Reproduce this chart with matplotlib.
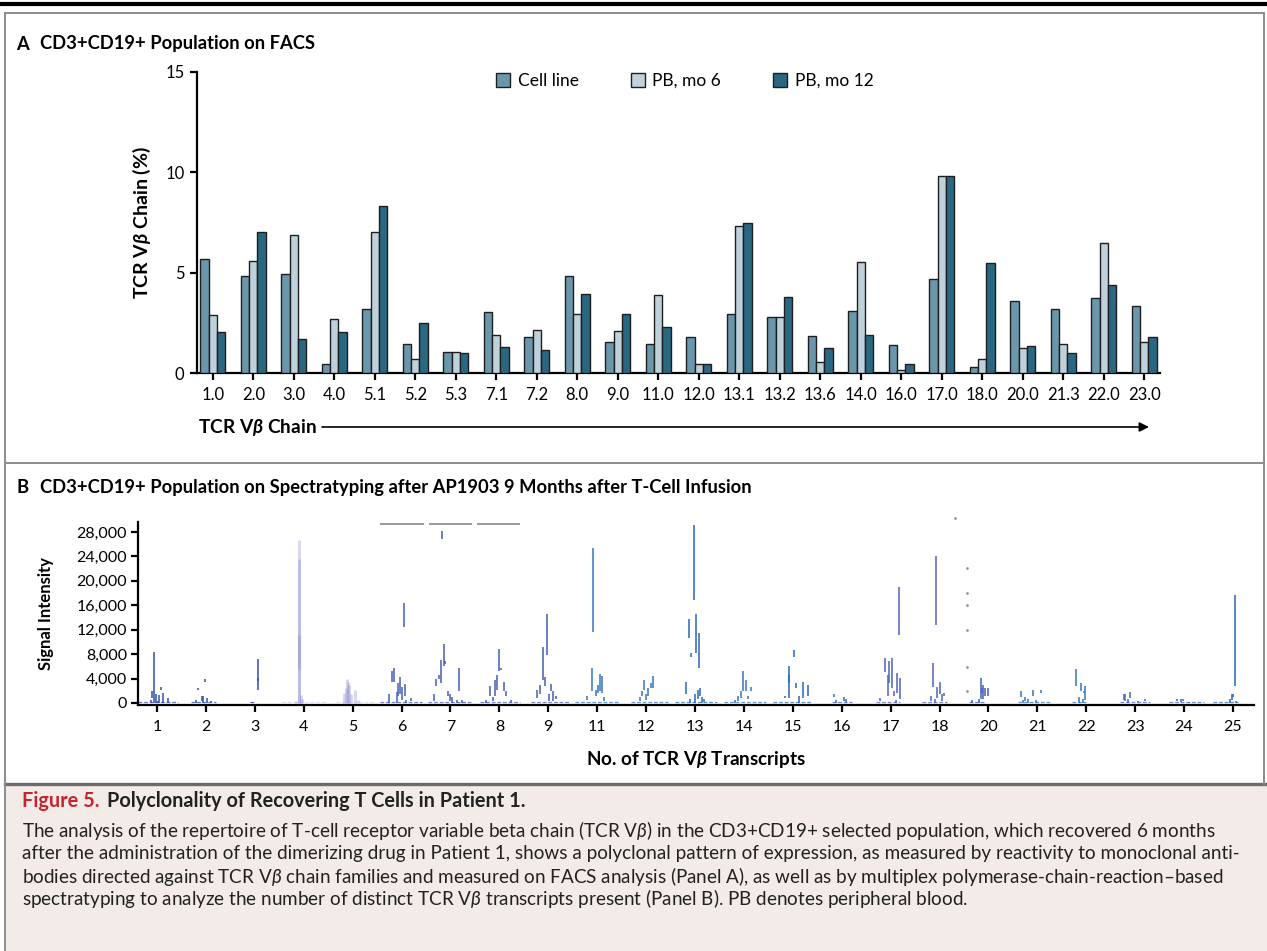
import matplotlib
matplotlib.use("Agg")
import matplotlib.pyplot as plt
from matplotlib.lines import Line2D
from matplotlib.patches import Rectangle
import numpy as np

plt.rcParams['font.family'] = ['Lato', 'DejaVu Sans']
plt.rcParams['mathtext.fontset'] = 'custom'
plt.rcParams['mathtext.it'] = 'Lato:italic'
plt.rcParams['mathtext.rm'] = 'Lato'
plt.rcParams['mathtext.bf'] = 'Lato:bold'
plt.rcParams['mathtext.bfit'] = 'Lato:italic:bold'

# ---- Panel A data: TCR Vbeta chain usage on FACS (%) ----
chains = ['1.0', '2.0', '3.0', '4.0', '5.1', '5.2', '5.3', '7.1', '7.2', '8.0', '9.0', '11.0',
          '12.0', '13.1', '13.2', '13.6', '14.0', '16.0', '17.0', '18.0', '20.0', '21.3', '22.0', '23.0']
cell_line = [5.70, 4.84, 4.94, 0.46, 3.17, 1.43, 1.04, 3.02, 1.81, 4.84, 1.52, 1.46,
             1.81, 2.95, 2.77, 1.86, 3.08, 1.41, 4.69, 0.31, 3.60, 3.18, 3.76, 3.36]
pb_mo6 = [2.87, 5.57, 6.90, 2.67, 7.03, 0.70, 1.04, 1.89, 2.12, 2.95, 2.09, 3.88,
          0.43, 7.31, 2.77, 0.56, 5.55, 0.13, 9.80, 0.68, 1.24, 1.43, 6.50, 1.56]
pb_mo12 = [2.06, 7.03, 1.69, 2.06, 8.34, 2.49, 1.01, 1.28, 1.14, 3.96, 2.92, 2.27,
           0.43, 7.49, 3.80, 1.26, 1.91, 0.43, 9.80, 5.50, 1.33, 1.01, 4.38, 1.81]
series_names = ['Cell line', 'PB, mo 6', 'PB, mo 12']

# ---- Panel B data: spectratype peaks (offset from family tick, low, high) ----
transcripts = ['1', '2', '3', '4', '5', '6', '7', '8', '9', '11', '12', '13',
               '14', '15', '16', '17', '18', '20', '21', '22', '23', '24', '25']
peaks_v1 = [(-0.07, 0, 8300), (-0.095, 800, 1900), (-0.12, 0, 500), (-0.015, 0, 1400), (0.04, 0, 1300),
            (0.09, 2200, 2600), (0.115, 0, 1600), (0.22, 0, 800), (0.02, 0, 400)]
peaks_v2 = [(-0.2, 0, 450), (-0.155, 2150, 2450), (-0.09, 300, 1100), (-0.065, 0, 1100),
            (-0.03, 3500, 3900), (0.03, 0, 800), (0.1, 0, 300)]
peaks_v3 = [(-0.05, 0, 200), (0.055, 2100, 7200), (0.06, 3600, 4100)]
peaks_v4 = [(-0.1, 0, 26700), (-0.105, 0, 23500), (-0.1, 5500, 11200), (-0.06, 0, 1300),
            (-0.03, 0, 600), (-0.15, 0, 300)]
peaks_v5 = [(-0.18, 0, 1600), (-0.14, 0, 2400), (-0.11, 0, 4000), (-0.09, 0, 3400), (-0.07, 0, 3000),
            (-0.03, 0, 1400), (0.05, 0, 2200), (0.1, 0, 500)]
peaks_v6 = [(-0.25, 0, 1400), (-0.205, 3500, 5200), (-0.15, 3500, 5700), (-0.1, 0, 1800),
            (-0.07, 1100, 3300), (-0.03, 1400, 4200), (0.01, 500, 2600), (0.04, 12400, 16400),
            (0.065, 1100, 3100), (0.2, 250, 800), (0.1, 0, 500)]
peaks_v7 = [(-0.33, 300, 1500), (-0.29, 2700, 4000), (-0.24, 4000, 4650), (-0.19, 3300, 7000),
            (-0.165, 26900, 28100), (-0.13, 6000, 9700), (-0.11, 6300, 6800), (-0.06, 1100, 1900),
            (0.0, 300, 1500), (0.03, 0, 1000), (0.175, 1900, 5700), (0.14, 0, 500), (0.24, 0, 500)]
peaks_v8 = [(-0.27, 0, 500), (-0.2, 1100, 2700), (-0.14, 300, 900), (-0.1, 1100, 3800),
            (-0.055, 2200, 4500), (-0.015, 5300, 8900), (0.03, 5400, 5700), (0.095, 1900, 3500),
            (0.14, 1100, 1900), (0.24, 0, 500)]
peaks_v9 = [(-0.225, 800, 2200), (-0.17, 1500, 3000), (-0.115, 3700, 9200), (-0.075, 2700, 4300),
            (-0.02, 7900, 14500), (0.02, 300, 1400), (0.06, 1900, 3100), (0.1, 300, 1900), (0.15, 700, 1200)]
peaks_v11 = [(-0.2, 500, 1100), (-0.11, 1900, 5700), (-0.08, 11700, 25400), (-0.02, 1100, 2200),
             (0.02, 1600, 3000), (0.055, 1900, 4800), (0.1, 1600, 4400), (0.14, 300, 900)]
peaks_v12 = [(-0.135, 300, 900), (-0.09, 1100, 1900), (-0.035, 2200, 3800), (0.0, 500, 1400),
             (0.04, 1100, 2400), (0.1, 2500, 3200), (0.15, 2500, 4400)]
peaks_v13 = [(-0.19, 1400, 3400), (-0.11, 0, 700), (-0.13, 10700, 13700), (-0.075, 7600, 8200),
             (-0.025, 16900, 29200), (0.0, 0, 1400), (0.025, 8200, 14500), (0.055, 600, 2100),
             (0.08, 5800, 11500), (0.11, 1100, 2400), (0.15, 0, 900), (0.19, 200, 700)]
peaks_v14 = [(-0.18, 0, 500), (-0.12, 300, 1100), (-0.07, 800, 1900), (-0.02, 1900, 5300),
             (0.035, 1900, 3800), (0.08, 700, 1200), (0.135, 1900, 2600)]
peaks_v15 = [(-0.17, 800, 1200), (-0.085, 800, 6100), (-0.08, 3300, 4500), (0.02, 7500, 8600),
             (0.07, 2500, 3200), (0.12, 0, 1100), (0.21, 800, 3400), (0.3, 1100, 3000)]
peaks_v16 = [(-0.16, 900, 1500), (-0.11, 0, 500), (0.05, 300, 900), (0.08, 0, 600)]
peaks_v17 = [(-0.21, 300, 800), (-0.11, 5100, 7300), (-0.06, 1100, 4600), (-0.03, 3300, 6800),
             (0.02, 2500, 7400), (0.06, 1100, 2000), (0.13, 1600, 4900), (0.175, 11200, 19000),
             (0.2, 600, 4100), (0.1, 0, 500)]
peaks_v18 = [(-0.18, 300, 1200), (-0.13, 2600, 6600), (-0.08, 12700, 24000), (-0.05, 800, 2600),
             (0.0, 1400, 3400), (0.05, 400, 1500), (0.09, 1100, 1600), (-0.1, 0, 600)]
peaks_v20 = [(-0.34, 0, 500), (-0.2, 0, 700), (-0.16, 600, 4100), (-0.14, 1600, 2500),
             (-0.12, 600, 2900), (-0.07, 1100, 2400), (-0.015, 1100, 2400)]
peaks_v21 = [(-0.33, 900, 1900), (-0.3, 0, 500), (-0.26, 300, 900), (-0.2, 0, 600),
             (-0.09, 1100, 2200), (-0.03, 0, 500), (0.07, 1600, 2200)]
peaks_v22 = [(-0.21, 2700, 5600), (-0.15, 0, 900), (-0.11, 1900, 3200), (-0.06, 0, 600),
             (-0.03, 500, 2700), (-0.04, 1600, 2000)]
peaks_v23 = [(-0.23, 500, 1500), (-0.2, 400, 1500), (-0.11, 800, 1800), (-0.14, 0, 600),
             (0.2, 300, 700), (0.05, 0, 300)]
peaks_v24 = [(-0.14, 300, 650), (-0.07, 200, 700), (-0.02, 300, 600), (0.1, 0, 200)]
peaks_v25 = [(-0.03, 500, 1400), (-0.06, 0, 600), (0.0, 1000, 1500), (0.045, 2800, 17600), (0.07, 0, 400)]

# low-level baseline trace around each family (offset start, offset end)
baseline_spans = [(-0.4, 0.42), (-0.3, 0.2), (-0.1, 0.0), (-0.45, 0.45), (-0.35, 0.45), (-0.45, 0.42),
                  (-0.45, 0.42), (-0.4, 0.42), (-0.35, 0.45), (-0.45, 0.45), (-0.3, 0.45), (-0.4, 0.45),
                  (-0.4, 0.45), (-0.4, 0.4), (-0.2, 0.2), (-0.3, 0.2), (-0.35, 0.15), (-0.4, -0.05),
                  (-0.4, 0.25), (-0.3, 0.0), (-0.3, 0.3), (-0.3, 0.4), (-0.4, 0.1)]

# size-marker bars at top of trace and stray dotted trace
marker_bar_x = [(4.56, 5.46), (5.56, 6.44), (6.54, 7.42)]
marker_bar_y = 29300
dot_x = [16.56, 16.56, 16.56, 16.56, 16.56, 16.56, 16.32]
dot_y = [22100, 18000, 16000, 11900, 5840, 1900, 30300]

spectra = [peaks_v1, peaks_v2, peaks_v3, peaks_v4, peaks_v5, peaks_v6, peaks_v7, peaks_v8, peaks_v9,
           peaks_v11, peaks_v12, peaks_v13, peaks_v14, peaks_v15, peaks_v16, peaks_v17, peaks_v18,
           peaks_v20, peaks_v21, peaks_v22, peaks_v23, peaks_v24, peaks_v25]

# ---- styling ----
W, H = 1267, 951
def fx(px):
    return px / W
def fy(py):
    return 1 - py / H

bar_colors = ['#6a97ab', '#bfd2dc', '#2a6781']
trace_colors = ['#3a55a8', '#3a55a8', '#3a55a8', '#8080cc', '#8080cc', '#4a62b2', '#4a62b2', '#4a62b2',
                '#4a62b2', '#3a78c0', '#3a78c0', '#2c6cb8', '#3a78c0', '#2c6cb8', '#4a6ac0', '#5568b8',
                '#5568b8', '#4a62b5', '#3a78c0', '#3a78c0', '#4a6ac0', '#4a6ac0', '#2c6cb8']
frame_gray = '#8c8c8c'
text_dark = '#222222'

fig = plt.figure(figsize=(W / 100, H / 100), dpi=100)

# ---- Panel A ----
axA = fig.add_axes([fx(197), fy(373), fx(1160) - fx(197), fy(72) - fy(373)])
x = np.arange(len(chains))
w = 0.205
handles = []
for k, vals in enumerate([cell_line, pb_mo6, pb_mo12]):
    b = axA.bar(x + (k - 1) * w, vals, w, color=bar_colors[k], edgecolor='#1e1e1e', linewidth=1.0,
                label=series_names[k], zorder=3)
    handles.append(b)
axA.set_xlim(-0.39, 23.39)
axA.set_ylim(0, 15)
axA.set_yticks([0, 5, 10, 15])
axA.set_xticks(x)
axA.set_xticklabels(chains)
for s in ['top', 'right']:
    axA.spines[s].set_visible(False)
for s in ['left', 'bottom']:
    axA.spines[s].set_linewidth(1.6)
axA.tick_params(axis='both', direction='out', length=5, width=1.6, labelsize=12, pad=4)
axA.tick_params(axis='x', pad=5)
axA.set_ylabel(r'TCR V$\mathbfit{\beta}$ Chain (%)', fontsize=14, fontweight='bold', labelpad=9)

axA.legend(handles=handles, labels=series_names, ncol=3, loc='center left',
           bbox_to_anchor=(fx(496), fy(81)), bbox_transform=fig.transFigure,
           frameon=False, fontsize=12.5, handlelength=0.8, handleheight=0.8,
           handletextpad=0.45, columnspacing=3.0, borderpad=0, borderaxespad=0)

# ---- Panel B ----
axB = fig.add_axes([fx(138), fy(704.5), fx(1254) - fx(138), fy(522.2) - fy(704.5)])
for i, peaks in enumerate(spectra):
    col = trace_colors[i]
    lav = transcripts[i] in ('4', '5')
    alpha = 0.3 if lav else 0.95
    lw = 2.2 if lav else 1.2
    xs = [i + p[0] for p in peaks]
    lo = [p[1] for p in peaks]
    hi = [p[2] for p in peaks]
    axB.vlines(xs, lo, hi, color=col, linewidth=lw, alpha=alpha, zorder=3)
    s0, s1 = baseline_spans[i]
    axB.hlines(120, i + s0, i + s1, color=col, linewidth=0.9, alpha=alpha * 0.8,
               linestyle=(0, (3, 1.5)), zorder=2)
for a, b in marker_bar_x:
    axB.hlines(marker_bar_y, a, b, color='#8a8a8a', linewidth=1.2)
axB.plot(dot_x, dot_y, linestyle='none', marker='s', markersize=0.8, color='#8a8a8a', clip_on=False)

axB.set_xlim(-0.39, 22.43)
axB.set_ylim(-250, 29600)
axB.set_yticks(np.arange(0, 28001, 4000))
axB.set_yticklabels(['{:,}'.format(v) for v in range(0, 28001, 4000)])
axB.set_xticks(np.arange(len(transcripts)))
axB.set_xticklabels(transcripts)
for s in ['top', 'right']:
    axB.spines[s].set_visible(False)
for s in ['left', 'bottom']:
    axB.spines[s].set_linewidth(1.6)
axB.tick_params(axis='both', direction='out', length=5, width=1.6, labelsize=11.5, pad=3)
axB.tick_params(axis='x', labelsize=11.5, pad=6)
axB.set_ylabel('Signal Intensity', fontsize=12, fontweight='bold', labelpad=16)
axB.set_xlabel(r'No. of TCR V$\mathbfit{\beta}$ Transcripts', fontsize=13.6, fontweight='bold', labelpad=11)

# ---- panel titles and axis arrow ----
fig.text(fx(16), fy(44), 'A', fontsize=13.2, fontweight='bold', va='center')
fig.text(fx(40), fy(44), 'CD3+CD19+ Population on FACS', fontsize=13.2, fontweight='bold', va='center')
fig.text(fx(16), fy(487), 'B', fontsize=13.2, fontweight='bold', va='center')
fig.text(fx(40), fy(487), 'CD3+CD19+ Population on Spectratyping after AP1903 9 Months after T-Cell Infusion',
         fontsize=13.2, fontweight='bold', va='center')
fig.text(fx(198), fy(428), r'TCR V$\mathbfit{\beta}$ Chain', fontsize=13.8, fontweight='bold', va='center')
fig.add_artist(plt.Annotation('', xy=(fx(1149), fy(427)), xytext=(fx(322), fy(427)),
                              xycoords='figure fraction', textcoords='figure fraction',
                              arrowprops=dict(arrowstyle='-|>', color='black', lw=1.2,
                                              mutation_scale=14, shrinkA=0, shrinkB=0)))

# ---- frame ----
def hline(y, x0, x1, **kw):
    fig.add_artist(Line2D([fx(x0), fx(x1)], [fy(y), fy(y)], transform=fig.transFigure, **kw))
def vline(xp, y0, y1, **kw):
    fig.add_artist(Line2D([fx(xp), fx(xp)], [fy(y0), fy(y1)], transform=fig.transFigure, **kw))

fig.add_artist(Rectangle((fx(6), 0), 1 - fx(6), fy(785), transform=fig.transFigure,
                         facecolor='#f2ebe7', edgecolor='none', zorder=0))
hline(4, 0, W, color='black', lw=3.0)
hline(12.5, 5, 1264, color=frame_gray, lw=1.4)
hline(463, 5, 1264, color=frame_gray, lw=1.4)
hline(784, 5, W, color='#6b6b6b', lw=2.4)
vline(5, 12.5, H, color=frame_gray, lw=1.4)
vline(1264, 12.5, 784, color=frame_gray, lw=1.4)

# ---- caption ----
fig.text(fx(22), fy(801), 'Figure 5.', fontsize=14.3, fontweight='bold', color='#c4262e', va='center')
fig.text(fx(107), fy(801), 'Polyclonality of Recovering T Cells in Patient 1.', fontsize=14.3,
         fontweight='bold', color=text_dark, va='center')
caption_lines = [
    r'The analysis of the repertoire of T-cell receptor variable beta chain (TCR V$\beta$) in the CD3+CD19+ selected population, which recovered 6 months',
    r'after the administration of the dimerizing drug in Patient 1, shows a polyclonal pattern of expression, as measured by reactivity to monoclonal anti-',
    r'bodies directed against TCR V$\beta$ chain families and measured on FACS analysis (Panel A), as well as by multiplex polymerase-chain-reaction–based',
    r'spectratyping to analyze the number of distinct TCR V$\beta$ transcripts present (Panel B). PB denotes peripheral blood.',
]
for j, line in enumerate(caption_lines):
    fig.text(fx(22), fy(830 + 23 * j), line, fontsize=13.6, color=text_dark, va='center')

fig.savefig('out.png', dpi=100)
